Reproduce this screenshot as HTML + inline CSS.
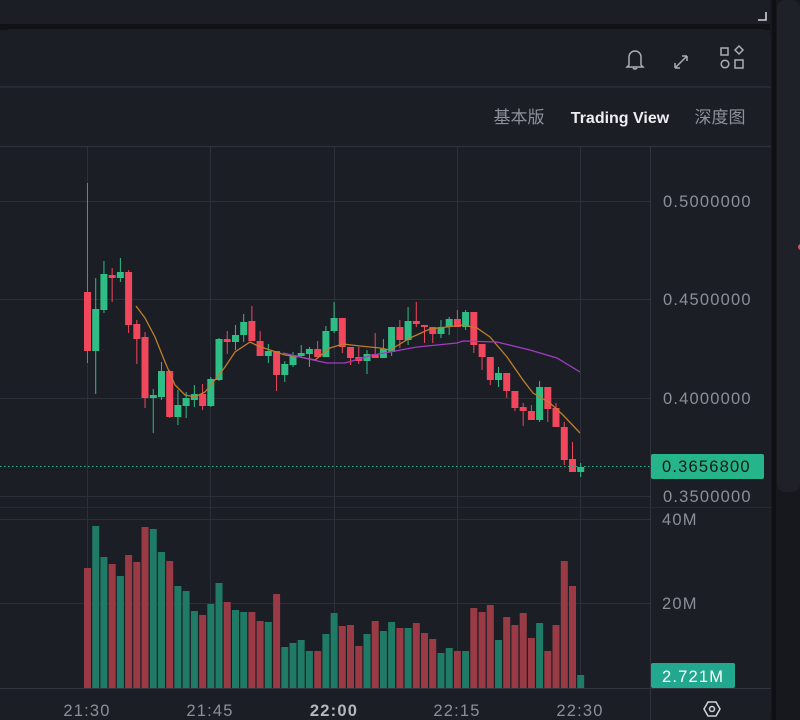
<!DOCTYPE html>
<html><head><meta charset="utf-8"><style>
html,body{margin:0;padding:0;width:800px;height:720px;overflow:hidden;background:#1b1e25;font-family:"Liberation Sans","Noto Sans CJK SC",sans-serif}
svg{position:absolute;left:0;top:0}
.ax{letter-spacing:1.2px}
</style></head><body>
<svg id="s" width="800" height="720" xmlns="http://www.w3.org/2000/svg">
<rect x="0" y="0" width="800" height="720" fill="#1b1e25"/>
<rect x="0" y="0" width="770" height="24" fill="#1b1e25"/>
<rect x="0" y="24" width="800" height="6" fill="#101216"/>
<rect x="770" y="0" width="30" height="720" fill="#16181d"/>
<rect x="777" y="0" width="23" height="492" rx="8" fill="#1e2128"/>
<rect x="772" y="0" width="4" height="720" fill="#0e1013"/>
<rect x="0" y="29" width="771" height="691" rx="10" fill="#1b1e25"/>
<rect x="0" y="40" width="20" height="680" fill="#1b1e25"/>
<path d="M758 20 h8 v-8" stroke="#d0d3d8" stroke-width="1.6" fill="none"/>
<circle cx="801" cy="247" r="3" fill="#e04a5e"/>
<line x1="0" y1="87" x2="771" y2="87" stroke="#2e323b" stroke-width="1.2"/>
<line x1="0" y1="146.5" x2="771" y2="146.5" stroke="#2e323b" stroke-width="1.2"/>
<g stroke="#a9adb5" stroke-width="1.5" fill="none">
<path d="M629 65 v-8 a6 6 0 0 1 12 0 v8 l2 2 h-16 z"/><path d="M633 68 a2.5 2.5 0 0 0 4 0"/>
<path d="M675 68 l12 -12 M687 56 h-5 M687 56 v5 M675 68 h5 M675 68 v-5"/>
<rect x="721" y="48" width="7" height="7"/><path d="M739 46 l4 4 -4 4 -4 -4 z"/><circle cx="725" cy="64" r="3.8"/><rect x="735" y="60" width="8" height="8"/>
</g>
<text x="519" y="123" fill="#8d919a" font-size="17" text-anchor="middle">基本版</text>
<text x="620" y="123" fill="#eceef1" font-size="16" font-weight="bold" text-anchor="middle">Trading View</text>
<text x="720" y="123" fill="#8d919a" font-size="17" text-anchor="middle">深度图</text>
<g id="grid" stroke="#2c3039" stroke-width="1"></g>
<g id="vol"></g>
<g id="cdl"></g>
<line x1="650.5" y1="147" x2="650.5" y2="720" stroke="#30343d"/>
<line x1="0" y1="688.5" x2="771" y2="688.5" stroke="#30343d"/>
<line x1="0" y1="507.5" x2="771" y2="507.5" stroke="#262a32"/>
<line x1="0" y1="466.5" x2="650" y2="466.5" stroke="#26b48a" stroke-dasharray="1.5 2.5" stroke-width="1"/>
<g fill="#8b8f98" font-size="16.5" class="ax">
<text x="663" y="207">0.5000000</text><text x="663" y="305">0.4500000</text><text x="663" y="404">0.4000000</text><text x="663" y="502">0.3500000</text>
<text x="662" y="525">40M</text><text x="662" y="609">20M</text>
</g>
<rect x="651" y="454" width="113" height="25" rx="2" fill="#26b48a"/>
<text x="662" y="472" fill="#0f1a16" font-size="16.5" class="ax">0.3656800</text>
<rect x="651" y="663" width="84" height="25" rx="2" fill="#22a88e"/>
<text x="662" y="682" fill="#ffffff" font-size="16.5" class="ax">2.721M</text>
<g fill="#8b8f98" font-size="16.5" text-anchor="middle" class="ax">
<text x="87" y="716">21:30</text><text x="210" y="716">21:45</text><text x="334" y="716" font-weight="bold" fill="#b4b8bf">22:00</text><text x="457" y="716">22:15</text><text x="580" y="716">22:30</text>
</g>
<path d="M704 709 l4 -7 h8 l4 7 -4 7 h-8 z" stroke="#d0d3d8" stroke-width="1.5" fill="none"/><circle cx="712" cy="709" r="2.5" stroke="#d0d3d8" stroke-width="1.5" fill="none"/>
<polyline fill="none" stroke="#c07d2a" stroke-width="1.3" points="136,306 145,318 155,337 165,362 175,385 185,395 195,397 205,392 215,380 225,367 235,352 250,342 258,346 270,350 285,355 300,357 315,360 330,348 343,344 360,346 380,348 390,350 410,338 430,329 463,325 477,328 490,337 507,357 523,380 533,393 550,403 563,415 580,433"/>
<polyline fill="none" stroke="#a43bc4" stroke-width="1.3" points="283,353 313,360 327,363 345,363 373,355 417,347 457,343 463,341 497,342 530,350 557,358 580,372"/>
</svg>
<script>
var NS="http://www.w3.org/2000/svg";
function el(p,t,a){var e=document.createElementNS(NS,t);for(var k in a)e.setAttribute(k,a[k]);p.appendChild(e);return e;}
var g=document.getElementById('grid');
[201.5,299.5,398.5,496.5,519.5,603.5].forEach(function(y){el(g,'line',{x1:0,y1:y,x2:650,y2:y});});
[87.5,210.5,334.5,457.5,580.5].forEach(function(x){el(g,'line',{x1:x,y1:147,x2:x,y2:688});});
var V="R568 G526 G557 R564 G576 R555 R562 R527 G529 G552 R561 G586 G591 G611 R615 G604 G583 R602 G610 G612 R612 R621 G622 R594 G647 G643 G640 G651 R651 G634 G613 R626 R625 R646 G634 R621 G631 G622 R628 G628 R623 R633 R639 G653 G648 R651 G651 R608 R612 R605 G640 R617 R625 R613 R638 G623 R651 R625 R561 R586 G675".split(' ');
var vg=document.getElementById('vol');
V.forEach(function(s,i){var x=84+i*8.22,y=+s.slice(1);el(vg,'rect',{x:x.toFixed(1),y:y,width:7,height:688-y,fill:s[0]=='R'?'#9a3a45':'#1f7a66'});});
var C=[
"R292 351 183 363","G309 351 278 394","G274 310 261 313","R275 278 268 302","G272 278 258 282","R272 325 270 333","R324 339 320 364","R337 398 332 408","G395 398 389 433","G371 397 362 400",
"R371 417 370 418","G405 417 390 425","G398 406 392 418","G394 400 385 407","R394 406 384 410","G379 406 377 407","G339 380 338 381","R339 342 331 354","G335 342 325 350","G322 335 314 342",
"R321 341 306 341","R341 356 331 356","G351 356 344 363","R351 375 351 391","G364 375 361 382","G355 365 352 367","G353 356 345 357","G349 354 347 367","R349 357 341 357","G331 357 326 357",
"G318 331 302 333","R318 347 318 353","R347 358 347 365","R357 361 347 364","G354 361 350 374","R354 358 333 358","G349 358 339 358","G327 352 327 356","R327 340 320 348","G321 340 307 345",
"R321 324 302 327","R325 327 325 343","R327 334 327 343","G327 334 320 338","G319 327 317 335","R319 327 310 327","G312 327 310 330","R312 345 312 353","R344 357 344 370","R357 380 357 385",
"G373 380 367 387","R373 391 373 398","R391 408 391 411","R407 411 403 426","R411 420 405 420","G387 420 381 422","R387 409 387 422","R408 427 403 427","R427 460 422 465","R459 472 442 472","G467 472 463 477"];
var cg=document.getElementById('cdl');
C.forEach(function(s,i){var c=s[0]=='R'?'#f0475c':'#2ebd85';var n=s.slice(1).split(' ').map(Number);var x=87.5+i*8.22;
el(cg,'line',{x1:x,y1:n[2],x2:x,y2:n[3],stroke:c,'stroke-width':1});
el(cg,'rect',{x:(x-3.5).toFixed(1),y:n[0],width:7,height:Math.max(2,n[1]-n[0]),fill:c});});
</script>
</body></html>
